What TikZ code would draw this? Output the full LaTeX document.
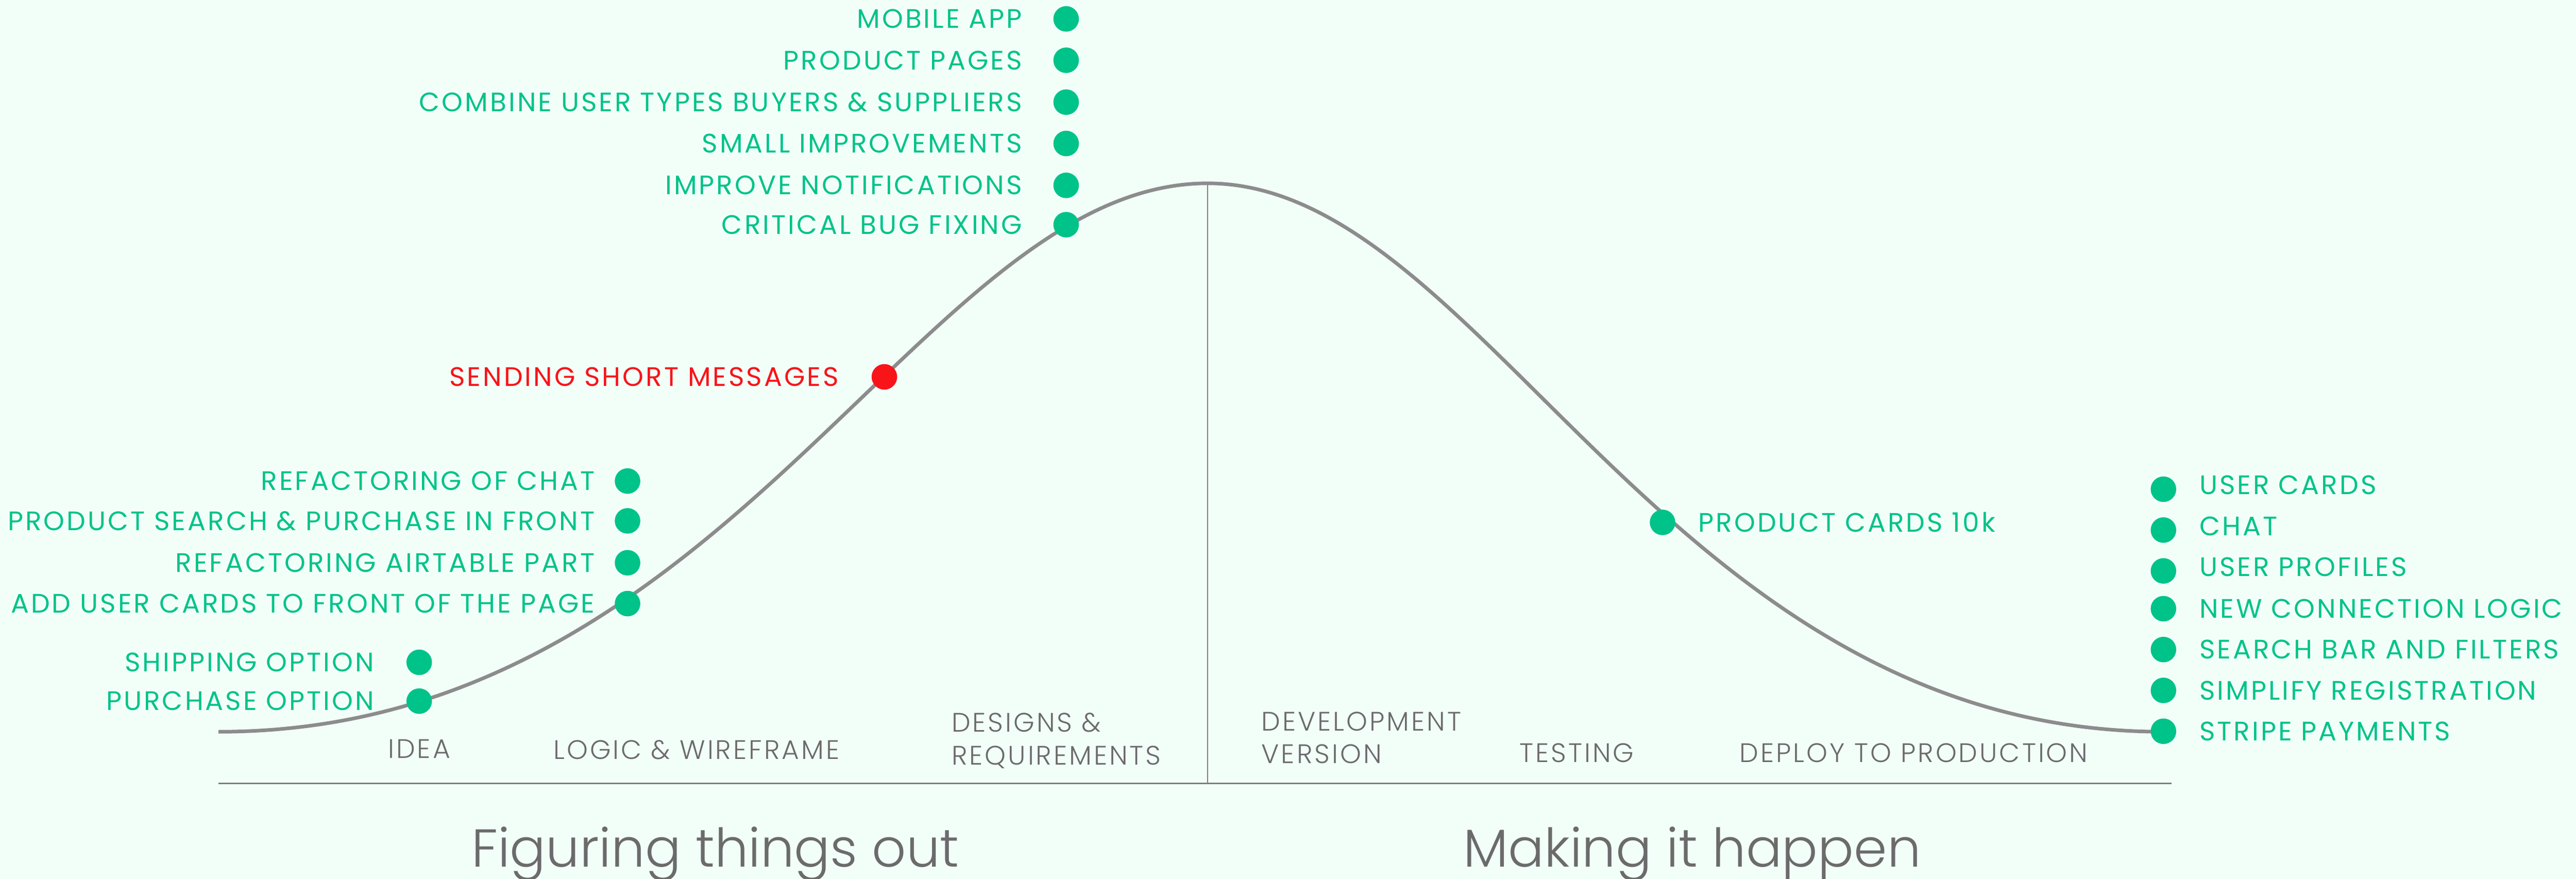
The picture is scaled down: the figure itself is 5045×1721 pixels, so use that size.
\documentclass[tikz,border=0pt]{standalone}
\usepackage{fontspec}
\setmainfont{Poppins}
\newfontfamily\taskfont{Poppins}[LetterSpace=7.7]
\newfontfamily\phasefont{Poppins Light}[LetterSpace=7.7]
\newfontfamily\lightfont{Poppins Light}
\usetikzlibrary{positioning}
\definecolor{mint}{HTML}{F2FFF9}
\definecolor{leaf}{HTML}{00C389}
\definecolor{alert}{HTML}{F91419}
\definecolor{ink}{HTML}{6B6B6B}
\definecolor{curve}{HTML}{8C8C8C}
\definecolor{rule}{HTML}{7F7F7F}

\begin{document}
\begin{tikzpicture}[x=0.01cm,y=-0.01cm,node distance=0.6cm]
  \tikzset{dot/.style={circle,fill=leaf,inner sep=0pt,minimum size=0.5cm},
    task/.style={text=leaf,inner sep=0pt,text height=0.367cm,text depth=0pt,
      font=\taskfont\fontsize{14.9pt}{18pt}\selectfont},
    phase/.style={text=ink,inner sep=0pt,font=\phasefont\fontsize{14.9pt}{18pt}\selectfont},
    title/.style={text=ink,inner sep=0pt,anchor=base,font=\lightfont\fontsize{29.7pt}{34pt}\selectfont}}
  \fill[mint] (0,0) rectangle (5045,1721);
  \useasboundingbox (0,0) rectangle (5045,1721);
  \coordinate (o) at (428,1534);
  \coordinate (x) at (4253,1534);
  \coordinate (start) at (428,1433);
  \coordinate (top) at (2365,359);
  \coordinate (finish) at (4237,1433);
  \draw[rule,line width=0.85pt] (o) -- (x);
  \draw[rule,line width=0.75pt] (top) -- (top |- o);
  \draw[curve,line width=2pt] (start) .. controls +(1007,0) and +(-560,0) .. (top)
    .. controls +(541,0) and +(-973,0) .. (finish);

  % figuring things out
  \node[dot] (m1) at (2088,37) {};
  \node[dot] (m2) at (2088,118) {};
  \node[dot] (m3) at (2088,200) {};
  \node[dot] (m4) at (2088,281) {};
  \node[dot] (m5) at (2088,363) {};
  \node[dot] (m6) at (2088,440) {};
  \node[task,left=0.6cm of m1] (t1) {MOBILE APP};
  \node[task,left=0.6cm of m2] (t2) {PRODUCT PAGES};
  \node[task,left=0.6cm of m3] (t3) {COMBINE USER TYPES BUYERS \& SUPPLIERS};
  \node[task,left=0.6cm of m4] (t4) {SMALL IMPROVEMENTS};
  \node[task,left=0.6cm of m5] (t5) {IMPROVE NOTIFICATIONS};
  \node[task,left=0.6cm of m6] (t6) {CRITICAL BUG FIXING};

  \node[dot,fill=alert] (sms) at (1732,738) {};
  \node[task,text=alert,left=0.63cm of sms] (smst) {SENDING SHORT MESSAGES};

  \node[dot] (c1) at (1229,942) {};
  \node[dot] (c2) at (1229,1020) {};
  \node[dot] (c3) at (1229,1102) {};
  \node[dot] (c4) at (1229,1182) {};
  \node[task,left=0.38cm of c1] (ct1) {REFACTORING OF CHAT};
  \node[task,left=0.38cm of c2] (ct2) {PRODUCT SEARCH \& PURCHASE IN FRONT};
  \node[task,left=0.38cm of c3] (ct3) {REFACTORING AIRTABLE PART};
  \node[task,left=0.38cm of c4] (ct4) {ADD USER CARDS TO FRONT OF THE PAGE};

  \node[dot] (p1) at (821,1297) {};
  \node[dot] (p2) at (821,1373) {};
  \node[task,left=0.62cm of p1] (pt1) {SHIPPING OPTION};
  \node[task,left=0.62cm of p2] (pt2) {PURCHASE OPTION};

  % making it happen
  \node[dot] (pc) at (3256,1023) {};
  \node[task,right=0.44cm of pc] (pct) {PRODUCT CARDS 10k};

  \node[dot] (r1) at (4237,958) {};
  \node[dot] (r2) at (4237,1038) {};
  \node[dot] (r3) at (4237,1118) {};
  \node[dot] (r4) at (4237,1192) {};
  \node[dot] (r5) at (4237,1272) {};
  \node[dot] (r6) at (4237,1352) {};
  \node[dot] (r7) at (4237,1432) {};
  \node[task,right=0.44cm of r1,yshift=0.08cm] (rt1) {USER CARDS};
  \node[task,right=0.44cm of r2,yshift=0.08cm] (rt2) {CHAT};
  \node[task,right=0.44cm of r3,yshift=0.08cm] (rt3) {USER PROFILES};
  \node[task,right=0.44cm of r4] (rt4) {NEW CONNECTION LOGIC};
  \node[task,right=0.44cm of r5] (rt5) {SEARCH BAR AND FILTERS};
  \node[task,right=0.44cm of r6] (rt6) {SIMPLIFY REGISTRATION};
  \node[task,right=0.44cm of r7] (rt7) {STRIPE PAYMENTS};

  % phases
  \node[phase,anchor=base] (idea) at (821,1485) {IDEA};
  \node[phase,anchor=base] (logic) at (1364,1487) {LOGIC \& WIREFRAME};
  \node[phase,anchor=base west] (design) at (1863,1433) {DESIGNS \&};
  \node[phase,anchor=base west] (req) at (1863,1498) {REQUIREMENTS};
  \node[phase,anchor=base west] (dev) at (2470,1431) {DEVELOPMENT};
  \node[phase,anchor=base west] (ver) at (2470,1495) {VERSION};
  \node[phase,anchor=base] (test) at (3088,1493) {TESTING};
  \node[phase,anchor=base] (deploy) at (3748,1493) {DEPLOY TO PRODUCTION};
  \node[title] (figure) at (1401,1698) {Figuring things out};
  \node[title] (make) at (3314,1698) {Making it happen};
\end{tikzpicture}
\end{document}
